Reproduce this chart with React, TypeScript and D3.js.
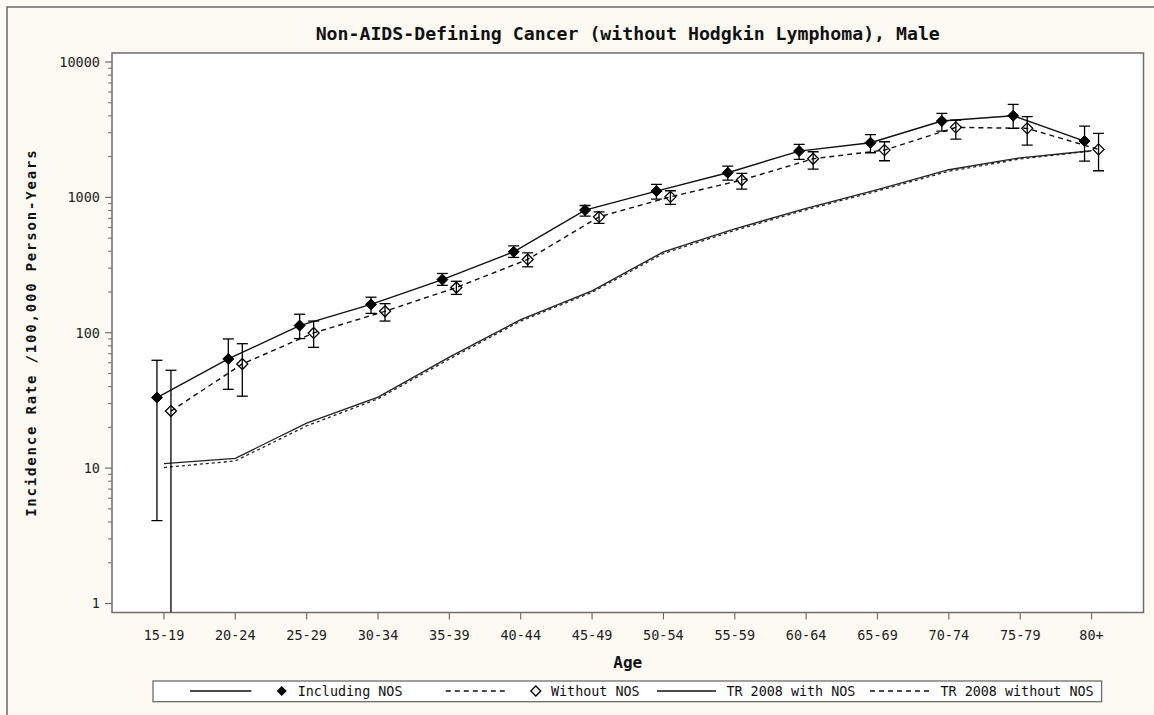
import React from "react";
import * as d3 from "d3";

const ages = ["15-19","20-24","25-29","30-34","35-39","40-44","45-49","50-54","55-59","60-64","65-69","70-74","75-79","80+"];
const inclRate = [33.2, 64, 113, 162, 247, 396, 805, 1112, 1520, 2198, 2534, 3662, 4008, 2606];
const inclLower = [4.1, 38.2, 90.6, 139, 224, 360, 727, 971, 1342, 1908, 2136, 3090, 3234, 1854];
const inclUpper = [62.6, 90, 137, 183, 274, 438, 871, 1247, 1703, 2463, 2904, 4178, 4866, 3363];
const woRate = [26.4, 58.8, 99.7, 144, 216, 348, 718, 1009, 1342, 1928, 2235, 3289, 3234, 2262];
const woLower = [0.3, 34, 78, 122, 192, 307, 642, 887, 1151, 1618, 1864, 2697, 2434, 1572];
const woUpper = [52.8, 83, 122, 164, 240, 389, 782, 1119, 1503, 2173, 2576, 3725, 3943, 2970];
const trWith = [10.8, 11.8, 21.5, 33.5, 66, 125, 204, 396, 585, 830, 1140, 1600, 1960, 2210];
const trWithout = [10.1, 11.3, 20.5, 32.5, 64, 122, 199, 385, 570, 810, 1115, 1560, 1920, 2200];
const yTicks = [1, 10, 100, 1000, 10000];

const W = 1154, H = 715;
const L = 112, R = 1143.5, T = 53, B = 612.5;
const MONO = "'DejaVu Sans Mono', 'Liberation Mono', monospace";
const AX = "#6e6e6e";

export default function App() {
  const x = d3.scalePoint<string>().domain(ages).range([L, R]).padding(0.728);
  const y = d3.scaleLog().domain([0.858, 11653]).range([B, T]);
  const off = 7;
  const lineGen = (vals: number[], dx: number) =>
    d3.line<number>().x((_, i) => (x(ages[i]) as number) + dx).y((v) => y(v))(vals) || "";

  const minor: number[] = [];
  for (let d = 1; d <= 1000; d *= 10) for (let k = 2; k <= 9; k++) minor.push(d * k);

  const diamond = (cx: number, cy: number, s = 5.5) =>
    `M${cx},${cy - s}L${cx + s},${cy}L${cx},${cy + s}L${cx - s},${cy}Z`;

  const errBars = (lo: number[], hi: number[], dx: number, key: string) =>
    ages.map((a, i) => {
      const cx = (x(a) as number) + dx;
      const yl = Math.min(y(lo[i]), B);
      const yh = y(hi[i]);
      return (
        <g key={key + i} stroke="#000" strokeWidth={1.3}>
          <line x1={cx} x2={cx} y1={yh} y2={yl} />
          <line x1={cx - 5.5} x2={cx + 5.5} y1={yh} y2={yh} />
          {y(lo[i]) <= B && <line x1={cx - 5.5} x2={cx + 5.5} y1={yl} y2={yl} />}
        </g>
      );
    });

  return (
    <svg width={W} height={H} style={{ position: "absolute", left: 0, top: 0, background: "#fcfaf2" }}>
      <rect x={0} y={0} width={W} height={H} fill="#fcfaf2" />
      <rect x={7} y={7} width={W + 20} height={H + 20} fill="none" stroke="#555" strokeWidth={1.3} />
      <defs>
        <clipPath id="plotclip">
          <rect x={L} y={T} width={R - L} height={B - T} />
        </clipPath>
      </defs>
      <rect x={L} y={T} width={R - L} height={B - T} fill="#fff" stroke={AX} strokeWidth={1.5} />

      {/* title */}
      <text x={(L + R) / 2} y={40} textAnchor="middle" fontFamily={MONO} fontWeight="bold" fontSize={18.2} fill="#111">
        Non-AIDS-Defining Cancer (without Hodgkin Lymphoma), Male
      </text>

      {/* y axis */}
      {yTicks.map((t) => (
        <g key={"yt" + t}>
          <line x1={L - 7} x2={L} y1={y(t)} y2={y(t)} stroke={AX} strokeWidth={1.2} />
          <text x={L - 12} y={y(t) + 5} textAnchor="end" fontFamily={MONO} fontSize={13.5} fill="#222">{t}</text>
        </g>
      ))}
      {minor.map((t) => (
        <line key={"ym" + t} x1={L - 4} x2={L} y1={y(t)} y2={y(t)} stroke={AX} strokeWidth={1} />
      ))}
      <text
        transform={`translate(36, ${(T + B) / 2}) rotate(-90)`}
        textAnchor="middle"
        fontFamily={MONO}
        fontWeight="bold"
        fontSize={14}
        letterSpacing={1.8}
        fill="#111"
      >
        Incidence Rate /100,000 Person-Years
      </text>

      {/* x axis */}
      {ages.map((a) => (
        <g key={"xt" + a}>
          <line x1={x(a)} x2={x(a)} y1={B} y2={B + 7} stroke={AX} strokeWidth={1.2} />
          <text x={x(a)} y={640} textAnchor="middle" fontFamily={MONO} fontSize={13.5} fill="#222">{a}</text>
        </g>
      ))}
      <text x={(L + R) / 2} y={668} textAnchor="middle" fontFamily={MONO} fontWeight="bold" fontSize={16} fill="#111">Age</text>

      {/* data */}
      <g clipPath="url(#plotclip)">
        <path d={lineGen(trWith, 0)} fill="none" stroke="#222" strokeWidth={1.3} />
        <path d={lineGen(trWithout, 0)} fill="none" stroke="#222" strokeWidth={1.3} strokeDasharray="3,3" />
        <path d={lineGen(inclRate, -off)} fill="none" stroke="#111" strokeWidth={1.4} />
        <path d={lineGen(woRate, off)} fill="none" stroke="#111" strokeWidth={1.4} strokeDasharray="5,4" />
        {errBars(inclLower, inclUpper, -off, "ei")}
        {errBars(woLower, woUpper, off, "ew")}
        {ages.map((a, i) => (
          <path key={"fd" + i} d={diamond((x(a) as number) - off, y(inclRate[i]))} fill="#000" stroke="#000" strokeWidth={1} />
        ))}
        {ages.map((a, i) => (
          <path key={"od" + i} d={diamond((x(a) as number) + off, y(woRate[i]))} fill="none" stroke="#000" strokeWidth={1.3} />
        ))}
      </g>

      {/* legend */}
      <rect x={153} y={681} width={948.6} height={20.7} fill="#fff" stroke={AX} strokeWidth={1.3} />
      <g fontFamily={MONO} fontSize={13.4} fill="#111">
        <line x1={190} x2={251.4} y1={691} y2={691} stroke="#111" strokeWidth={1.3} />
        <path d={diamond(281.7, 691, 5)} fill="#000" />
        <text x={297.7} y={696}>Including NOS</text>
        <line x1={445.8} x2={507} y1={691} y2={691} stroke="#111" strokeWidth={1.3} strokeDasharray="5,4" />
        <path d={diamond(535.8, 691, 5)} fill="none" stroke="#000" strokeWidth={1.3} />
        <text x={551} y={696}>Without NOS</text>
        <line x1={657} x2={716} y1={691} y2={691} stroke="#111" strokeWidth={1.3} />
        <text x={726.4} y={696}>TR 2008 with NOS</text>
        <line x1={870} x2={931.4} y1={691} y2={691} stroke="#111" strokeWidth={1.3} strokeDasharray="5,4" />
        <text x={940.5} y={696}>TR 2008 without NOS</text>
      </g>
    </svg>
  );
}
